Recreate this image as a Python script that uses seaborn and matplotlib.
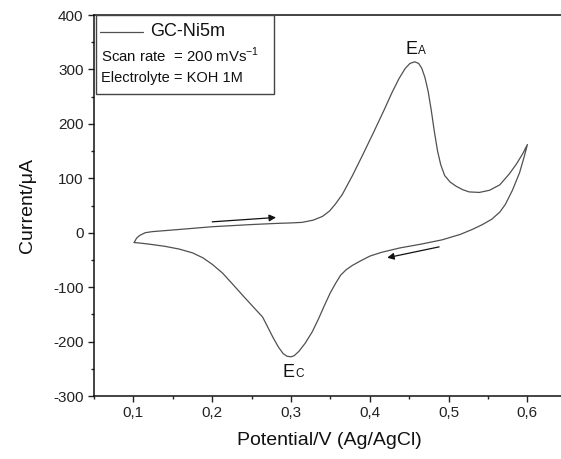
import matplotlib
matplotlib.use("Agg")
import matplotlib.pyplot as plt
from matplotlib.patches import Rectangle
from matplotlib.lines import Line2D
from matplotlib.ticker import MultipleLocator, FuncFormatter
import seaborn as sns
import pandas as pd
import numpy as np

# Anodic (forward) sweep, 0.1 V -> 0.6 V
fwd_potential = [0.101, 0.104, 0.108, 0.115, 0.124, 0.150, 0.200, 0.250, 0.280, 0.300,
                 0.314, 0.328, 0.340, 0.349, 0.356, 0.365, 0.378, 0.391, 0.405, 0.418,
                 0.428, 0.437, 0.445, 0.451, 0.457, 0.462, 0.466, 0.470, 0.474, 0.478,
                 0.482, 0.486, 0.490, 0.495, 0.502, 0.510, 0.518, 0.526, 0.539, 0.552,
                 0.565, 0.577, 0.586, 0.594, 0.600]
fwd_current = [-18, -10, -5, 0, 2, 5, 11, 15, 17, 18,
               19, 23, 30, 40, 52, 70, 105, 143, 185, 225,
               257, 283, 302, 311, 314, 311, 302, 285, 260, 225,
               185, 150, 125, 105, 93, 85, 79, 75, 74, 78,
               88, 108, 126, 145, 162]

# Cathodic (reverse) sweep, 0.6 V -> 0.1 V
rev_potential = [0.600, 0.596, 0.590, 0.581, 0.572, 0.565, 0.555, 0.543, 0.530, 0.515,
                 0.492, 0.465, 0.438, 0.415, 0.400, 0.388, 0.378, 0.370, 0.363, 0.357,
                 0.350, 0.342, 0.335, 0.327, 0.318, 0.310, 0.304, 0.300, 0.295, 0.290,
                 0.284, 0.277, 0.270, 0.264, 0.250, 0.238, 0.225, 0.213, 0.200, 0.188,
                 0.175, 0.158, 0.140, 0.120, 0.108, 0.101]
rev_current = [162, 140, 110, 78, 52, 38, 25, 15, 6, -3,
               -13, -21, -28, -36, -43, -52, -60, -68, -78, -92,
               -110, -135, -158, -182, -203, -218, -226, -228, -227, -222,
               -210, -192, -172, -155, -133, -114, -93, -74, -58, -46,
               -37, -30, -25, -21, -19, -18]

# Scan direction arrows: (start potential, start current, end potential, end current)
arrow_fwd = (0.200, 20, 0.281, 28)
arrow_rev = (0.488, -26, 0.422, -46)

# Peak labels (anchor of the "E")
peak_a = (0.445, 329)
peak_c = (0.289, -266)

cv = pd.DataFrame({
    "potential": fwd_potential + rev_potential,
    "current": fwd_current + rev_current,
    "step": np.arange(len(fwd_potential) + len(rev_potential)),
})

sns.set_theme(style="ticks")
plt.rcParams["font.family"] = ["Liberation Sans", "DejaVu Sans"]

fig = plt.figure(figsize=(5.61, 4.59), dpi=100)
W, H = 561, 459
left_px, right_px, top_px, bottom_px = 94, 565, 15, 396
ax = fig.add_axes([left_px / W, 1 - bottom_px / H,
                   (right_px - left_px) / W, (bottom_px - top_px) / H])

sns.lineplot(data=cv, x="potential", y="current", sort=False, estimator=None,
             color="#505050", linewidth=0.9, ax=ax)

ax.set_xlim(0.05, 0.05 + (right_px - left_px) / 788.0)
ax.set_ylim(-300, 400)

ax.xaxis.set_major_locator(MultipleLocator(0.1))
ax.xaxis.set_minor_locator(MultipleLocator(0.05))
ax.yaxis.set_major_locator(MultipleLocator(100))
ax.yaxis.set_minor_locator(MultipleLocator(50))
ax.xaxis.set_major_formatter(FuncFormatter(
    lambda v, p: "" if v < 0.075 else f"{v:.1f}".replace(".", ",")))
ax.yaxis.set_major_formatter(FuncFormatter(lambda v, p: f"{v:.0f}"))

ax.tick_params(which="major", direction="out", length=4.5, width=1.0,
               labelsize=11, colors="#222222", pad=3)
ax.tick_params(which="minor", direction="out", length=2.5, width=1.0, colors="#222222")
ax.tick_params(top=False, right=False)
for side in ["left", "bottom", "top", "right"]:
    ax.spines[side].set_color("#111111")
    ax.spines[side].set_linewidth(1.1)

ax.set_xlabel("Potential/V (Ag/AgCl)", fontsize=14, color="#111111", labelpad=8)
ax.set_ylabel("Current/\u03bcA", fontsize=14, color="#111111", labelpad=12)

# Direction arrows
for x0, y0, x1, y1 in (arrow_fwd, arrow_rev):
    ax.annotate("", xy=(x1, y1), xytext=(x0, y0),
                arrowprops=dict(arrowstyle="-|>", color="#111111", lw=0.9,
                                mutation_scale=10, shrinkA=0, shrinkB=0))

# Peak labels: large "E" with a small letter on the same baseline
for (px, py), sub in ((peak_a, "A"), (peak_c, "C")):
    ax.text(px, py, "E", fontsize=13, color="#111111", ha="left", va="baseline")
    ax.annotate(sub, xy=(px, py), xytext=(9.2, 0), textcoords="offset points",
                fontsize=8.5, color="#111111", ha="left", va="baseline")

# Info box in the upper-left corner
def px_to_axes(px, py):
    return ((px - left_px) / (right_px - left_px),
            (bottom_px - py) / (bottom_px - top_px))

bx0, by0 = px_to_axes(96, 94)
bx1, by1 = px_to_axes(274, 15)
ax.add_patch(Rectangle((bx0, by0), bx1 - bx0, by1 - by0, transform=ax.transAxes,
                       facecolor="white", edgecolor="#444444", linewidth=1.0, zorder=5))
lx0, ly = px_to_axes(100, 32)
lx1, _ = px_to_axes(143, 32)
ax.add_line(Line2D([lx0, lx1], [ly, ly], transform=ax.transAxes,
                   color="#505050", linewidth=0.9, zorder=6))
tx, ty = px_to_axes(150, 32)
ax.text(tx, ty, "GC-Ni5m", transform=ax.transAxes, fontsize=13,
        color="#111111", va="center", ha="left", zorder=6)
tx, ty = px_to_axes(101, 55)
ax.text(tx, ty, r"Scan rate  = 200 mVs$^\mathregular{-1}$", transform=ax.transAxes,
        fontsize=10.8, color="#111111", va="center", ha="left", zorder=6)
tx, ty = px_to_axes(101, 78)
ax.text(tx, ty, "Electrolyte = KOH 1M", transform=ax.transAxes,
        fontsize=10.5, color="#111111", va="center", ha="left", zorder=6)

fig.savefig("out.png", dpi=100, facecolor="white")
